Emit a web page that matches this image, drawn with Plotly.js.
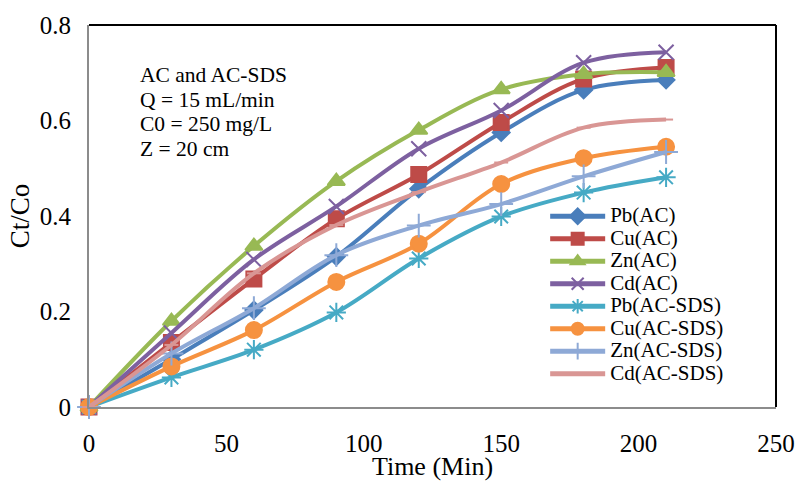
<!DOCTYPE html>
<html>
<head>
<meta charset="utf-8">
<script src="https://cdn.plot.ly/plotly-3.0.1.min.js"></script>
<style>html,body{margin:0;padding:0;background:#fff}#chart{width:798px;height:481px}</style>
</head>
<body>
<div id="chart"></div>
<script>
const time = [0, 30, 60, 90, 120, 150, 180, 210];
const seriesNames = ["Pb(AC)", "Cu(AC)", "Zn(AC)", "Cd(AC)", "Pb(AC-SDS)", "Cu(AC-SDS)", "Zn(AC-SDS)", "Cd(AC-SDS)"];
const pbAC    = [0, 0.10, 0.203, 0.315, 0.457, 0.575, 0.664, 0.685];
const cuAC    = [0, 0.135, 0.268, 0.394, 0.487, 0.596, 0.687, 0.711];
const znAC    = [0, 0.180, 0.337, 0.473, 0.580, 0.665, 0.697, 0.701];
const cdAC    = [0, 0.155, 0.309, 0.420, 0.541, 0.621, 0.721, 0.743];
const pbACSDS = [0, 0.062, 0.120, 0.198, 0.311, 0.399, 0.449, 0.481];
const cuACSDS = [0, 0.085, 0.161, 0.262, 0.342, 0.467, 0.521, 0.545];
const znACSDS = [0, 0.112, 0.207, 0.318, 0.380, 0.425, 0.483, 0.534];
const cdACSDS = [0, 0.130, 0.280, 0.381, 0.450, 0.512, 0.585, 0.602];
const noteLines = ["AC and AC-SDS", "Q = 15 mL/min", "C0 = 250 mg/L", "Z = 20 cm"];

const values = [pbAC, cuAC, znAC, cdAC, pbACSDS, cuACSDS, znACSDS, cdACSDS];
const colors = ["#4A7EBB", "#BE4B48", "#98B954", "#7D60A0", "#46AAC5", "#F69240", "#8EA9D6", "#D99694"];
const symbols = ["diamond", "square", "triangle-up", "x-thin-open", "asterisk-open", "circle", "cross-thin-open", "line-ew-open"];
const sizes = [13, 15, 15, 15, 16, 16, 17, 10];

const traces = seriesNames.map((n, i) => ({
  x: time, y: values[i], type: "scatter", mode: "lines+markers",
  name: '<span style="font-size:21px">' + n + '</span>',
  cliponaxis: false,
  line: {color: colors[i], width: 4, shape: "spline", smoothing: 1},
  marker: {symbol: symbols[i], size: sizes[i], color: colors[i], line: {color: colors[i], width: 2}}
}));

const F = "Liberation Serif, Times New Roman, serif";
const layout = {
  width: 798, height: 481,
  margin: {l: 89, r: 22, t: 25, b: 74},
  paper_bgcolor: "#fff", plot_bgcolor: "#fff",
  font: {family: F, color: "#000", size: 22},
  showlegend: true,
  legend: {x: 0.664, y: 0.542, xanchor: "left", yanchor: "top", font: {family: F, size: 15, color: "#000"},
           bgcolor: "rgba(255,255,255,0)", itemwidth: 55, itemsizing: "constant", tracegroupgap: 0},
  xaxis: {range: [0, 250], dtick: 50, showgrid: false, zeroline: false, showline: true, linecolor: "#8c8c8c", linewidth: 2,
          ticks: "", ticklabelstandoff: 13, tickfont: {family: F, size: 25},
          title: {text: "Time (Min)", font: {family: F, size: 26}, standoff: 2}},
  yaxis: {range: [0, 0.8], dtick: 0.2, showgrid: false, zeroline: false, showline: true, linecolor: "#8c8c8c", linewidth: 2,
          ticks: "", ticklabelstandoff: 11, tickfont: {family: F, size: 25},
          title: {text: "Ct/Co", font: {family: F, size: 27}, standoff: 2}},
  shapes: [
    {type: "line", xref: "paper", yref: "paper", x0: 0, x1: 1, y0: 1, y1: 1, line: {color: "#000", width: 2}},
    {type: "line", xref: "paper", yref: "paper", x0: 1, x1: 1, y0: 0, y1: 1, line: {color: "#000", width: 2}}
  ],
  annotations: [{
    xref: "paper", yref: "paper", x: 0.071, y: 0.905, xanchor: "left", yanchor: "top", align: "left", showarrow: false,
    text: noteLines.map(s => '<span style="font-size:21.5px">' + s + '</span>').join("<br>"),
    font: {family: F, size: 19, color: "#000"}
  }]
};

Plotly.newPlot("chart", traces, layout, {displayModeBar: false, staticPlot: true});
</script>
</body>
</html>
